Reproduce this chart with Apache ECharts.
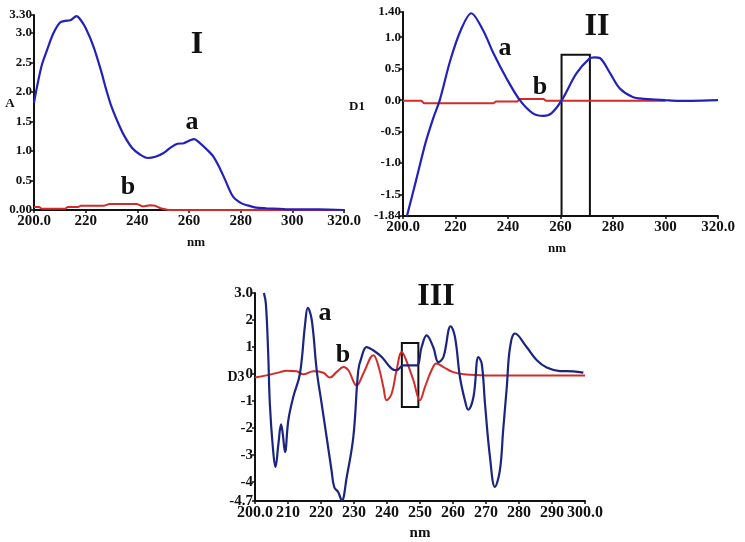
<!DOCTYPE html>
<html>
<head>
<meta charset="utf-8">
<script src="https://cdn.jsdelivr.net/npm/echarts@6/dist/echarts.min.js"></script>
<style>
  html, body { margin: 0; padding: 0; background: #fff; }
  #chart { width: 745px; height: 542px; }
</style>
</head>
<body>
<div id="chart"></div>
<script>
  // 光谱数据 [波长nm, 值]
  const specIa = [[200,1.81],[201,2.05],[203,2.45],[205,2.7],[207.5,2.99],[210,3.17],[212,3.2],[214,3.21],[216.5,3.28],[218,3.22],[220,3.08],[223,2.77],[226,2.35],[228,2.03],[230,1.75],[233,1.43],[235,1.25],[238,1.05],[241,0.94],[244,0.88],[247,0.9],[250,0.96],[253,1.06],[255.5,1.12],[258,1.13],[260,1.17],[262,1.2],[264,1.14],[267,1.02],[269.5,0.9],[272,0.7],[274,0.51],[277,0.23],[280,0.12],[282.5,0.08],[286,0.04],[290,0.03],[295,0.02],[300,0.01],[310,0.01],[320,0.0]]
  const specIb = [[200,0.05],[202,0.05],[203,0.02],[212,0.02],[213,0.05],[217,0.05],[218,0.07],[227,0.07],[229,0.1],[240,0.1],[242,0.06],[245,0.08],[247,0.07],[249,0.03],[252,0.0],[256,0.0],[320,0.0]]
  const specIIa = [[201.5,-1.84],[205,-1.27],[208.5,-0.69],[211.5,-0.29],[214,0.0],[218,0.63],[222,1.11],[226,1.38],[230.5,1.11],[234.5,0.74],[239.5,0.34],[244.5,0.0],[249.5,-0.21],[253.5,-0.25],[256.5,-0.21],[260.5,0.0],[266,0.42],[271,0.66],[273,0.68],[275,0.67],[279,0.42],[282.5,0.19],[287.5,0.05],[292,0.02],[296,0.01],[300,0.0],[305,-0.01],[310,-0.01],[320,0.0]]
  const specIIb = [[200,-0.01],[207,-0.01],[208,-0.05],[234.5,-0.05],[235.5,-0.02],[243.5,-0.02],[244.5,0.02],[253.5,0.02],[254.5,-0.01],[300,-0.01]]
  const specIIIa = [[202.7,3.0],[203.3,2.6],[204,0.75],[204.5,-1.1],[205.4,-2.7],[206.2,-3.44],[207.1,-2.58],[207.9,-1.86],[208.4,-2.2],[209.1,-2.89],[210.1,-1.71],[211.6,-0.85],[213.6,0.0],[215.2,1.87],[216,2.45],[217.2,2.0],[218.7,0.14],[220.2,-1.1],[221.7,-2.33],[223.2,-3.57],[224,-4.18],[225.2,-4.37],[226.3,-4.68],[227.8,-3.81],[229.8,-2.33],[231.3,0.14],[232.3,0.63],[233.8,1.0],[235.8,0.88],[238.4,0.63],[241.4,0.2],[242.9,0.14],[244.9,0.32],[247,0.32],[249,0.32],[250.5,1.0],[252,1.43],[254,1.0],[255.6,0.44],[257.1,0.63],[259.3,1.77],[260.6,1.37],[262.1,-0.11],[263.6,-0.97],[264.6,-1.32],[266.2,-0.85],[267.7,0.63],[268.7,0.39],[269.7,-1.1],[271.2,-3.07],[272.7,-4.18],[274.2,-3.57],[275.2,-2.08],[276.3,-0.48],[277.3,1.0],[278.8,1.5],[282.3,1.0],[285.4,0.51],[288.4,0.24],[292.4,0.11],[296.4,0.1],[299.5,0.05]]
  const specIIIb = [[200,-0.13],[203.5,-0.05],[207.6,0.07],[209.6,0.12],[212.6,0.1],[214.6,-0.01],[217.7,0.1],[220.7,0.05],[222.7,-0.13],[224.7,0.07],[226.8,0.26],[228.3,0.14],[230.8,-0.42],[232.8,0.01],[235.9,0.7],[237.4,0.3],[238.9,-0.48],[239.9,-0.97],[241.4,-0.73],[242.9,0.14],[244.5,0.82],[246,0.45],[248,-0.23],[250,-0.97],[251.5,-0.48],[253.5,0.14],[255,0.39],[257.1,0.26],[260.1,0.07],[264,-0.02],[270,-0.05],[300,-0.05]]
  // 方框
  const boxII = [[260.4,0.72],[271.2,-1.84]]
  const boxIII = [[244.5,1.15],[249.5,-1.22]]
  // 刻度
  const yTicksI = [0,0.5,1.0,1.5,2.0,2.5,3.0,3.3]
  const yTicksII = [-1.84,-1.5,-1.0,-0.5,0,0.5,1.0,1.4]
  const yTicksIII = [-4.7,-4,-3,-2,-1,0,1,2,3]

  const FONT = 'Liberation Serif'
  const BLUE = '#2222bb'
  const NAVY = '#1b2580'
  const RED = '#d42a2a'

  let chart = echarts.init(document.getElementById('chart'))

  const xAxisDef = (idx, max, step, size) => ({
    type: 'value', gridIndex: idx, min: 200, max: max, interval: step,
    axisLine: { onZero: false, lineStyle: { color: '#111', width: 2 } },
    axisTick: { length: 3, lineStyle: { color: '#111', width: 1.5 } },
    splitLine: { show: false },
    axisLabel: {
      fontFamily: FONT, fontWeight: 'bold', fontSize: size, color: '#111', margin: 4,
      formatter: v => (v === 200 || v === max) ? v.toFixed(1) : String(v)
    }
  })
  const yAxisDef = (idx, ticks, size, fmt) => ({
    type: 'value', gridIndex: idx, min: ticks[0], max: ticks[ticks.length - 1],
    axisLine: { onZero: false, lineStyle: { color: '#111', width: 2 } },
    axisTick: { length: 3, customValues: ticks, lineStyle: { color: '#111', width: 1.5 } },
    splitLine: { show: false },
    axisLabel: {
      fontFamily: FONT, fontWeight: 'bold', fontSize: size, color: '#111', margin: 2,
      customValues: ticks, formatter: fmt
    }
  })

  const txt = (x, y, s, size) => ({
    type: 'text', x: x, y: y,
    style: { text: s, fontFamily: FONT, fontWeight: 'bold', fontSize: size, fill: '#111', align: 'center', verticalAlign: 'middle' }
  })

  const boxStyle = { color: 'rgba(0,0,0,0)', borderColor: '#111', borderWidth: 2 }

  let option = {
    animation: false,
    backgroundColor: '#fff',
    grid: [
      { left: 34, top: 15, width: 310, height: 195 },
      { left: 403, top: 12, width: 315, height: 204 },
      { left: 255, top: 293, width: 330, height: 208 }
    ],
    xAxis: [
      xAxisDef(0, 320, 20, 15),
      xAxisDef(1, 320, 20, 15),
      xAxisDef(2, 300, 10, 16)
    ],
    yAxis: [
      yAxisDef(0, yTicksI, 13, v => (v === 0 ? '0.00' : v === 3.3 ? '3.30' : v.toFixed(1))),
      yAxisDef(1, yTicksII, 13, v => (v === -1.84 ? '-1.84' : v === 1.4 ? '1.40' : v.toFixed(1))),
      yAxisDef(2, yTicksIII, 15, v => (v === 3 ? '3.0' : String(v)))
    ],
    series: [
      { type: 'line', xAxisIndex: 0, yAxisIndex: 0, data: specIb, showSymbol: false, lineStyle: { color: RED, width: 2 }, z: 3 },
      { type: 'line', xAxisIndex: 0, yAxisIndex: 0, data: specIa, showSymbol: false, smooth: 0.3, lineStyle: { color: BLUE, width: 2.2 }, z: 4 },
      { type: 'line', xAxisIndex: 1, yAxisIndex: 1, data: specIIb, showSymbol: false, lineStyle: { color: RED, width: 2 }, z: 3,
        markArea: { silent: true, itemStyle: boxStyle, data: [[{ coord: boxII[0] }, { coord: boxII[1] }]] } },
      { type: 'line', xAxisIndex: 1, yAxisIndex: 1, data: specIIa, showSymbol: false, smooth: 0.3, lineStyle: { color: BLUE, width: 2.2 }, z: 4 },
      { type: 'line', xAxisIndex: 2, yAxisIndex: 2, data: specIIIb, showSymbol: false, smooth: 0.4, lineStyle: { color: RED, width: 2 }, z: 3,
        markArea: { silent: true, itemStyle: boxStyle, data: [[{ coord: boxIII[0] }, { coord: boxIII[1] }]] } },
      { type: 'line', xAxisIndex: 2, yAxisIndex: 2, data: specIIIa, showSymbol: false, smooth: 0.4, lineStyle: { color: NAVY, width: 2.2 }, z: 4 }
    ],
    graphic: [
      txt(197, 45, 'I', 32), txt(192, 122, 'a', 26), txt(128, 187, 'b', 26),
      txt(10, 104, 'A', 13), txt(196, 243, 'nm', 13),
      txt(597, 27, 'II', 32), txt(505, 48, 'a', 26), txt(540, 87, 'b', 26),
      txt(357, 107, 'D1', 13), txt(557, 249, 'nm', 13),
      txt(436, 297, 'III', 32), txt(325, 313, 'a', 26), txt(343, 355, 'b', 26),
      txt(236, 377, 'D3', 14), txt(420, 533, 'nm', 15)
    ]
  }
  chart.setOption(option)
</script>
</body>
</html>
